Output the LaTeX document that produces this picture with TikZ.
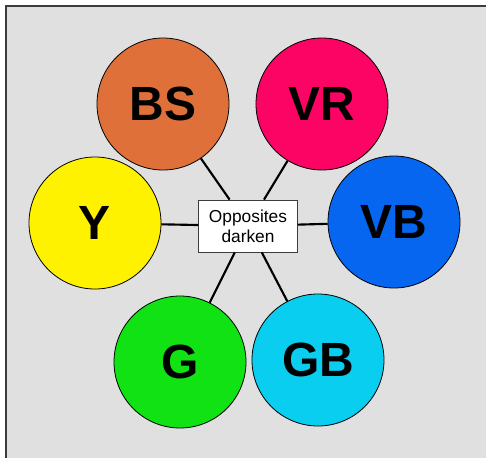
\documentclass[tikz,border=0pt]{standalone}
\usepackage{fontspec}
\setmainfont{Liberation Sans}
\definecolor{fond}{RGB}{224,224,224}
\definecolor{bord}{RGB}{60,60,60}
\definecolor{cBS}{RGB}{224,112,58}
\definecolor{cVR}{RGB}{252,4,100}
\definecolor{cY}{RGB}{255,242,0}
\definecolor{cVB}{RGB}{6,102,240}
\definecolor{cG}{RGB}{17,226,20}
\definecolor{cGB}{RGB}{10,206,240}
\tikzset{
  rond/.style={circle,draw=black,line width=0.6pt,minimum size=99pt,inner sep=0pt,
    font=\fontsize{36}{36}\selectfont\bfseries},
  cadre/.style={draw=bord,fill=white,line width=0.6pt,minimum width=74pt,minimum height=39pt,
    inner sep=0pt,align=center,font=\fontsize{13}{15}\selectfont},
  lien/.style={line width=1.6pt,black}
}
\begin{document}
\begin{tikzpicture}  % ------ Opposites darken ---------------
      [x=0.75pt,y=-0.75pt]
    \useasboundingbox (0,0) rectangle (486,458);
    \fill[fond] (6,6) rectangle (486,458);
    \draw[bord,line width=1.2pt] (6,458) -- (6,6) -- (486,6);

    \node[cadre] (centre) at (248,226) {Opposites\\darken};

    \node[rond,fill=cBS] (BS) at (163,104) {BS};
    \node[rond,fill=cVR] (VR) at (322,104) {VR};
    \node[rond,fill=cY]  (Y)  at (95,223)  {Y};
    \node[rond,fill=cVB] (VB) at (394,222) {VB};
    \node[rond,fill=cG]  (G)  at (180,362) {G};
    \node[rond,fill=cGB] (GB) at (318,360) {GB};

    \draw[lien] (centre) -- (BS);
    \draw[lien] (centre) -- (VR);
    \draw[lien] (centre) -- (Y);
    \draw[lien] (centre) -- (VB);
    \draw[lien] (centre) -- (G);
    \draw[lien] (centre) -- (GB);
\end{tikzpicture}
\end{document}
